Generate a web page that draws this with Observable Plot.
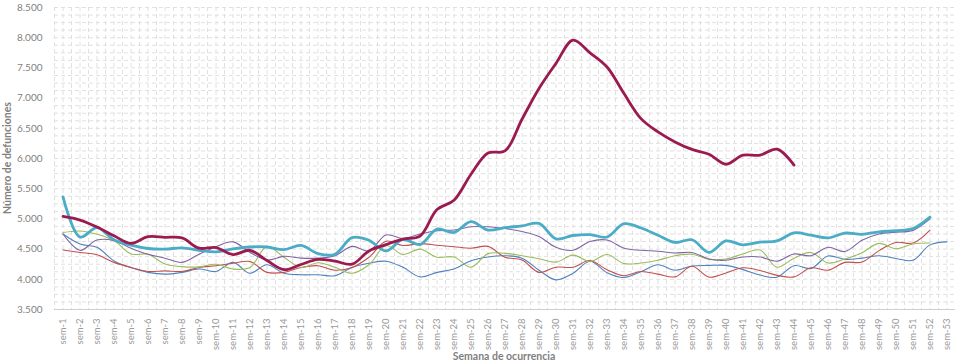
<!DOCTYPE html>
<html><head><meta charset="utf-8">
<script src="https://cdn.jsdelivr.net/npm/d3@7"></script>
<script src="https://cdn.jsdelivr.net/npm/@observablehq/plot@0.6"></script>
<style>
html,body{margin:0;padding:0;background:#fff;}
#chart{width:955px;height:362px;}
</style></head><body><div id="chart"></div>
<script>
// Categories
const weeks = d3.range(1, 54);
const weekLabels = weeks.map(w => "sem-" + w);
const yTicks = [3500, 4000, 4500, 5000, 5500, 6000, 6500, 7000, 7500, 8000, 8500];
const yTitle = "Número de defunciones";
const xTitle = "Semana de ocurrencia";

// Series values (weeks 1..53, null = no data)
const serieA = [4750, 4585, 4530, 4305, 4195, 4115, 4085, 4115, 4170, 4130, 4280, 4100, 4240, 4100, 4075, 4075, 4060, 4196, 4265, 4300, 4198, 4040, 4115, 4170, 4308, 4370, 4390, 4350, 4150, 3990, 4100, 4300, 4110, 4030, 4125, 4240, 4150, 4220, 4230, 4230, 4160, 4070, 4035, 4225, 4180, 4385, 4330, 4350, 4390, 4345, 4315, 4570, 4620];
const serieB = [4485, 4445, 4405, 4280, 4195, 4130, 4140, 4130, 4195, 4225, 4265, 4295, 4115, 4115, 4195, 4225, 4150, 4195, 4365, 4630, 4560, 4590, 4565, 4540, 4515, 4545, 4365, 4320, 4115, 4200, 4200, 4310, 4160, 4060, 4130, 4085, 4040, 4215, 4035, 4105, 4190, 4145, 4065, 4040, 4190, 4150, 4280, 4285, 4475, 4610, 4600, 4815, null];
const serieC = [4775, 4800, 4745, 4640, 4420, 4415, 4255, 4210, 4205, 4250, 4170, 4195, 4545, 4365, 4195, 4275, 4200, 4100, 4240, 4560, 4410, 4500, 4365, 4370, 4200, 4425, 4430, 4390, 4340, 4285, 4400, 4295, 4410, 4260, 4270, 4315, 4390, 4415, 4330, 4335, 4420, 4485, 4200, 4350, 4445, 4270, 4335, 4440, 4595, 4505, 4585, 4600, null];
const serieD = [4750, 4480, 4650, 4640, 4515, 4415, 4350, 4280, 4415, 4540, 4620, 4445, 4320, 4380, 4350, 4350, 4390, 4545, 4470, 4735, 4675, 4750, 4805, 4815, 4870, 4870, 4840, 4790, 4710, 4530, 4480, 4625, 4650, 4515, 4480, 4465, 4435, 4445, 4335, 4315, 4370, 4370, 4300, 4420, 4390, 4530, 4460, 4645, 4750, 4780, 4810, 5000, null];
const serieE = [5365, 4700, 4855, 4655, 4565, 4510, 4500, 4520, 4480, 4455, 4505, 4535, 4535, 4490, 4560, 4425, 4415, 4690, 4645, 4470, 4660, 4575, 4830, 4775, 4955, 4815, 4855, 4885, 4925, 4670, 4725, 4740, 4700, 4920, 4850, 4730, 4610, 4655, 4445, 4635, 4570, 4615, 4635, 4770, 4730, 4685, 4765, 4745, 4785, 4805, 4840, 5030, null];
const serieF = [5040, 4980, 4865, 4720, 4595, 4705, 4695, 4685, 4515, 4525, 4410, 4480, 4310, 4160, 4245, 4330, 4300, 4250, 4470, 4575, 4665, 4715, 5155, 5310, 5740, 6090, 6125, 6650, 7160, 7575, 7960, 7750, 7515, 7075, 6660, 6440, 6275, 6150, 6070, 5905, 6055, 6055, 6155, 5890, null, null, null, null, null, null, null, null, null];

const seriesNames = ["A", "B", "C", "D", "E", "F"];
const seriesValues = [serieA, serieB, serieC, serieD, serieE, serieF];
const seriesColors = ["#4F81BD", "#C0504D", "#9BBB59", "#8064A2", "#4BACC6", "#9B1B50"];
const seriesWidths = [1.1, 1.1, 1.1, 1.1, 2.8, 2.8];

const rows = [];
seriesNames.forEach((name, i) => {
  seriesValues[i].forEach((v, j) => {
    if (v != null) rows.push({serie: name, week: weeks[j], value: v});
  });
});

const fmt = d3.formatLocale({decimal: ",", thousands: ".", grouping: [3], currency: ["", ""]}).format(",");

const lineMarks = seriesNames.map((name, i) =>
  Plot.line(rows.filter(r => r.serie === name), {
    x: "week", y: "value", stroke: seriesColors[i], strokeWidth: seriesWidths[i], curve: "catmull-rom"
  })
);

const chart = Plot.plot({
  width: 955,
  height: 362,
  marginLeft: 54,
  marginRight: 0,
  marginTop: 7,
  marginBottom: 53,
  style: {fontFamily: "Lato, 'Open Sans', sans-serif", background: "#fff"},
  x: {type: "linear", domain: [0.5, 53.5]},
  y: {domain: [3500, 8500]},
  marks: [
    Plot.ruleY(d3.range(3500, 8501, 125), {stroke: "#e0e0e0", strokeDasharray: "4,3"}),
    Plot.ruleX(d3.range(0.5, 53.6, 0.5), {stroke: "#e0e0e0", strokeDasharray: "4,3"}),
    Plot.ruleY([3500], {stroke: "#d0d0d0"}),
    Plot.axisY(yTicks, {tickSize: 0, tickPadding: 12, tickFormat: fmt, fontSize: 10, color: "#7f7f7f", label: null}),
    Plot.axisX(weeks, {tickSize: 0, tickPadding: 9, tickRotate: -90, tickFormat: w => weekLabels[w - 1], fontSize: 9.5, color: "#9a9a9a", label: null}),
    ...lineMarks
  ]
});

const svg = d3.select(chart);
svg.append("text")
  .attr("transform", "translate(8,158) rotate(-90)")
  .attr("text-anchor", "middle")
  .attr("dominant-baseline", "middle")
  .attr("font-family", "Lato, sans-serif")
  .attr("font-size", 10.5)
  .attr("font-weight", "bold")
  .attr("fill", "#7f7f7f")
  .text(yTitle);
svg.append("text")
  .attr("x", 504)
  .attr("y", 357)
  .attr("text-anchor", "middle")
  .attr("dominant-baseline", "middle")
  .attr("font-family", "Lato, sans-serif")
  .attr("font-size", 10.5)
  .attr("font-weight", "bold")
  .attr("fill", "#7f7f7f")
  .text(xTitle);

document.getElementById("chart").appendChild(chart);
</script>
</body></html>
